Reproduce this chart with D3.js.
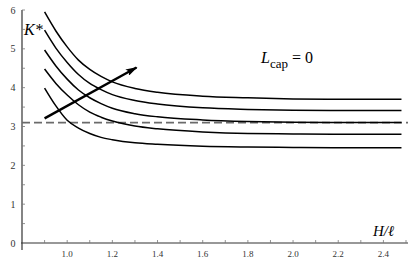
<!DOCTYPE html>
<html>
<head>
<meta charset="utf-8">
<script src="https://cdn.jsdelivr.net/npm/d3@7"></script>
<style>
  body { margin: 0; background: #fff; }
</style>
</head>
<body>
<svg width="412" height="273"></svg>
<script>
// K* against H/l for five cases, L_cap = 0

var xs = [0.9, 0.95, 1.0, 1.05, 1.1, 1.15, 1.2, 1.3, 1.4, 1.6, 1.8, 2.0, 2.2, 2.48];

var k1 = [5.95, 5.46, 5.05, 4.71, 4.47, 4.29, 4.15, 3.98, 3.88, 3.78, 3.74, 3.71, 3.70, 3.70];
var k2 = [5.48, 5.02, 4.65, 4.34, 4.11, 3.95, 3.82, 3.67, 3.58, 3.48, 3.44, 3.42, 3.41, 3.41];
var k3 = [4.97, 4.56, 4.22, 3.94, 3.74, 3.59, 3.47, 3.33, 3.25, 3.17, 3.13, 3.11, 3.10, 3.10];
var k4 = [4.48, 4.11, 3.81, 3.56, 3.37, 3.24, 3.14, 3.01, 2.94, 2.86, 2.82, 2.81, 2.80, 2.80];
var k5 = [3.99, 3.53, 3.16, 2.96, 2.82, 2.72, 2.66, 2.58, 2.54, 2.49, 2.47, 2.46, 2.45, 2.45];

var refLevel = 3.1;            // dashed line
var arrowFrom = [0.9, 3.21];
var arrowTo = [1.307, 4.52];

var xTicks = [0.9, 1.0, 1.1, 1.2, 1.3, 1.4, 1.5, 1.6, 1.7, 1.8, 1.9, 2.0, 2.1, 2.2, 2.3, 2.4, 2.5];
var xLabels = [1.0, 1.2, 1.4, 1.6, 1.8, 2.0, 2.2, 2.4];
var yTicks = [0.5, 1, 1.5, 2, 2.5, 3, 3.5, 4, 4.5, 5, 5.5, 6];
var yLabels = [0, 1, 2, 3, 4, 5, 6];

const svg = d3.select("svg");
const axisColor = "#333";
const serif = "Liberation Serif";

var x = d3.scaleLinear().domain([0.8, 2.5]).range([22, 406]);
var y = d3.scaleLinear().domain([0, 6]).range([243, 10]);

// axes lines
svg.append("line")
  .attr("x1", x(0.8)).attr("x2", x(0.8))
  .attr("y1", y(6)).attr("y2", y(0) + 7)
  .attr("stroke", axisColor).attr("stroke-width", 1.2);
svg.append("line")
  .attr("x1", x(0.8) - 1).attr("x2", 408)
  .attr("y1", y(0)).attr("y2", y(0))
  .attr("stroke", axisColor).attr("stroke-width", 1.2);

// ticks, pointing into the plot
svg.selectAll(".xt").data(xTicks).enter().append("line")
  .attr("x1", d => x(d)).attr("x2", d => x(d))
  .attr("y1", y(0)).attr("y2", y(0) - 3)
  .attr("stroke", "#777").attr("stroke-width", 0.8);
svg.selectAll(".yt").data(yTicks).enter().append("line")
  .attr("x1", x(0.8)).attr("x2", x(0.8) + 3)
  .attr("y1", d => y(d)).attr("y2", d => y(d))
  .attr("stroke", "#777").attr("stroke-width", 0.8);

svg.selectAll(".xl").data(xLabels).enter().append("text")
  .attr("x", d => x(d)).attr("y", 257)
  .attr("text-anchor", "middle")
  .style("font-family", serif)
  .attr("font-size", 9).attr("fill", axisColor)
  .text(d => d.toFixed(1));
svg.selectAll(".yl").data(yLabels).enter().append("text")
  .attr("x", 13).attr("y", d => y(d) + 3.5)
  .attr("text-anchor", "middle")
  .style("font-family", serif)
  .attr("font-size", 10).attr("fill", axisColor)
  .text(d => d);

// dashed reference
svg.append("line")
  .attr("x1", x(0.8)).attr("x2", 408)
  .attr("y1", y(refLevel)).attr("y2", y(refLevel))
  .attr("stroke", "#6b6b6b").attr("stroke-width", 1.6)
  .attr("stroke-dasharray", "8,4");

// curves
var line = d3.line()
  .x((d, i) => x(xs[i]))
  .y(d => y(d))
  .curve(d3.curveMonotoneX);

svg.selectAll(".curve").data([k1, k2, k3, k4, k5]).enter().append("path")
  .attr("d", line)
  .attr("fill", "none")
  .attr("stroke", "#000")
  .attr("stroke-width", 1.5);

// arrow
svg.append("defs").append("marker")
  .attr("id", "head")
  .attr("viewBox", "0 0 10 6")
  .attr("refX", 9).attr("refY", 3)
  .attr("markerWidth", 5).attr("markerHeight", 3)
  .attr("markerUnits", "strokeWidth")
  .attr("orient", "auto")
  .append("path").attr("d", "M0,0 L10,3 L0,6 L2,3 Z").attr("fill", "#000");

svg.append("line")
  .attr("x1", x(arrowFrom[0])).attr("y1", y(arrowFrom[1]))
  .attr("x2", x(arrowTo[0])).attr("y2", y(arrowTo[1]))
  .attr("stroke", "#000").attr("stroke-width", 2.4)
  .attr("marker-end", "url(#head)");

// labels
svg.append("text")
  .attr("x", 24).attr("y", 35)
  .style("font-family", serif)
  .attr("font-size", 16).attr("font-style", "italic")
  .text("K*");

var lc = svg.append("text").attr("x", 261).attr("y", 63)
  .style("font-family", serif).attr("font-size", 16);
lc.append("tspan").attr("font-style", "italic").text("L");
lc.append("tspan").attr("dy", 5).attr("font-size", 13).text("cap");
lc.append("tspan").attr("dy", -5).text(" = 0");

var hl = svg.append("text").attr("x", 373).attr("y", 236)
  .style("font-family", serif)
  .attr("font-size", 15).attr("font-style", "italic");
hl.append("tspan").text("H/");
hl.append("tspan").text("\u2113");
</script>
</body>
</html>
